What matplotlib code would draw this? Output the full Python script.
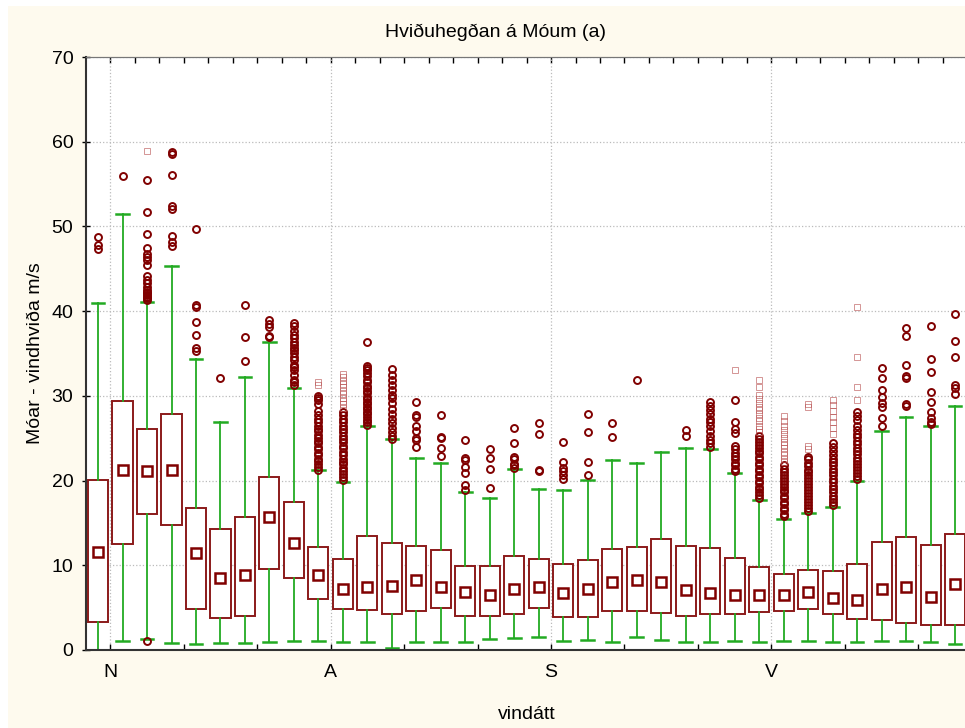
import matplotlib
matplotlib.use("Agg")
import matplotlib.pyplot as plt
import numpy as np
from matplotlib.patches import Rectangle

plt.rcParams['font.family'] = ['Liberation Sans', 'DejaVu Sans']

# 36 wind direction sectors (10 degrees each), N first
dir_labels = ['N', 'A', 'S', 'V']
label_sectors = [0, 9, 18, 27]

medians = [11.6, 21.2, 21.1, 21.2, 11.5, 8.5, 8.9, 15.7, 12.6, 8.9, 7.2, 7.4,
           7.6, 8.3, 7.4, 6.9, 6.5, 7.2, 7.4, 6.7, 7.2, 8.0, 8.3, 8.0,
           7.1, 6.7, 6.5, 6.5, 6.5, 6.85, 6.1, 5.9, 7.2, 7.4, 6.3, 7.8]
q1 = [3.3, 12.5, 16.1, 14.7, 4.8, 3.8, 4.0, 9.6, 8.5, 6.0, 4.8, 4.7,
      4.25, 4.6, 4.9, 4.0, 4.0, 4.2, 4.9, 3.9, 3.9, 4.6, 4.6, 4.4,
      4.05, 4.2, 4.2, 4.45, 4.6, 4.8, 4.2, 3.7, 3.6, 3.15, 3.0, 2.9]
q3 = [20.1, 29.4, 26.1, 27.8, 16.8, 14.3, 15.7, 20.4, 17.5, 12.1, 10.8, 13.4,
      12.6, 12.3, 11.8, 9.9, 9.9, 11.1, 10.7, 10.1, 10.6, 11.9, 12.2, 13.1,
      12.3, 12.0, 10.9, 9.8, 9.0, 9.4, 9.3, 10.1, 12.7, 13.3, 12.4, 13.7]
whis_lo = [0.0, 1.1, 1.3, 0.8, 0.7, 0.8, 0.8, 0.9, 1.1, 1.1, 1.0, 0.9,
           0.2, 0.9, 1.0, 0.9, 1.3, 1.4, 1.5, 1.1, 1.2, 0.9, 1.5, 1.2,
           0.9, 1.0, 1.1, 1.0, 1.1, 1.1, 1.0, 0.9, 1.1, 1.1, 0.9, 0.7]
whis_hi = [41.0, 51.5, 41.1, 45.3, 34.3, 26.9, 32.2, 36.3, 30.9, 21.2, 19.8, 26.4,
           24.9, 22.7, 22.1, 18.7, 18.0, 21.4, 19.0, 18.9, 20.1, 22.4, 22.1, 23.4,
           23.9, 23.7, 20.9, 17.7, 15.5, 16.2, 16.9, 19.9, 25.8, 27.5, 26.4, 28.8]

# outliers (open circles)
outliers = [
    [47.3, 47.8, 48.7],
    [55.9],
    [1.1, 41.3, 41.5, 41.7, 41.9, 42.1, 42.3, 42.5, 42.8, 43.3, 43.7, 44.1, 45.5,
     46.0, 46.4, 46.8, 47.4, 49.1, 51.7, 55.5],
    [47.7, 48.2, 48.9, 52.1, 52.4, 56.1, 58.6, 58.8],
    [35.3, 35.6, 37.2, 38.7, 40.5, 40.7, 49.7],
    [32.1],
    [34.1, 37.0, 40.7],
    [36.9, 37.1, 38.1, 38.5, 38.9],
    [31.3, 31.6, 31.9, 32.5, 33.1, 33.4, 33.6, 34.2, 34.6, 35.1, 35.4, 35.7, 36.0,
     36.4, 36.8, 37.2, 37.6, 38.2, 38.6],
    [21.3, 21.6, 21.9, 22.3, 22.6, 23.0, 23.3, 23.7, 24.0, 24.4, 24.7, 25.0, 25.4,
     25.8, 26.1, 26.5, 26.9, 27.3, 27.7, 28.2, 29.0, 29.5, 29.8, 30.0],
    [20.1, 20.4, 20.8, 21.1, 21.5, 21.9, 22.2, 22.6, 23.0, 23.4, 23.8, 24.1, 24.5,
     24.9, 25.3, 25.7, 26.1, 26.5, 26.9, 27.3, 27.7, 28.1],
    [26.6, 26.9, 27.2, 27.5, 27.8, 28.1, 28.4, 28.7, 29.0, 29.3, 29.6, 29.9, 30.3,
     30.6, 30.9, 31.2, 31.6, 31.9, 32.3, 32.7, 33.0, 33.3, 33.5, 36.3],
    [24.9, 25.3, 25.7, 26.2, 26.8, 27.3, 27.8, 28.5, 29.1, 29.7, 30.1, 30.7, 31.3,
     31.9, 32.5, 33.2],
    [24.0, 24.8, 25.0, 25.8, 26.5, 27.5, 27.7, 29.3],
    [22.9, 23.8, 25.0, 25.2, 27.7],
    [18.9, 19.5, 20.9, 21.6, 22.4, 22.7, 24.8],
    [19.1, 21.4, 22.7, 23.7],
    [21.5, 21.8, 22.0, 22.5, 22.8, 24.4, 26.2],
    [21.1, 21.3, 25.5, 26.8],
    [20.2, 20.7, 21.1, 21.5, 22.2, 24.6],
    [20.7, 22.2, 25.7, 27.9],
    [25.1, 26.8],
    [31.9],
    [],
    [25.3, 26.0],
    [24.0, 24.4, 24.8, 25.3, 25.8, 26.4, 26.9, 27.3, 27.8, 28.3, 28.8, 29.3],
    [21.1, 21.4, 21.8, 22.1, 22.5, 22.9, 23.3, 23.7, 24.1, 25.6, 26.1, 26.9, 29.5],
    [17.9, 18.3, 18.6, 19.0, 19.3, 19.7, 20.0, 20.4, 20.7, 21.1, 21.4, 21.8, 22.1,
     22.5, 22.8, 23.2, 23.5, 23.9, 24.2, 24.6, 24.9, 25.3],
    [15.8, 16.1, 16.5, 16.8, 17.2, 17.5, 17.9, 18.2, 18.6, 18.9, 19.3, 19.6, 20.0,
     20.3, 20.7, 21.0, 21.4, 21.8],
    [16.4, 16.8, 17.1, 17.5, 17.8, 18.2, 18.5, 18.9, 19.2, 19.6, 19.9, 20.3, 20.6,
     21.0, 21.3, 21.7, 22.1, 22.5, 22.8],
    [17.1, 17.5, 17.8, 18.2, 18.6, 19.0, 19.4, 19.8, 20.2, 20.6, 21.0, 21.4, 21.8,
     22.2, 22.6, 23.0, 23.5, 24.0, 24.4],
    [20.2, 20.5, 20.9, 21.2, 21.6, 21.9, 22.3, 22.7, 23.1, 23.5, 23.9, 24.3, 24.7,
     25.1, 25.5, 26.0, 26.5, 27.1, 27.6, 28.1],
    [26.4, 27.4, 28.7, 29.1, 29.9, 30.7, 32.1, 33.3],
    [28.8, 29.0, 32.1, 32.4, 33.7, 37.1, 38.0],
    [26.7, 26.9, 27.4, 28.1, 29.3, 30.4, 32.8, 34.4, 38.3],
    [30.2, 30.9, 31.3, 34.6, 36.5, 39.7],
]

# extremes (small dotted squares)
extremes = {
    2: [58.9],
    9: [31.3, 31.6],
    10: [28.6, 29.0, 29.4, 29.8, 30.2, 30.6, 31.0, 31.4, 31.8, 32.2, 32.6],
    26: [33.0],
    27: [25.7, 26.1, 26.5, 27.0, 27.4, 27.8, 28.3, 28.7, 29.1, 29.6, 30.1, 31.0, 31.9],
    28: [22.2, 22.6, 23.0, 23.4, 23.8, 24.2, 24.6, 25.0, 25.5, 26.0, 26.5, 27.0, 27.6],
    29: [23.7, 24.1, 28.7, 29.0],
    30: [25.5, 26.2, 26.9, 27.5, 28.2, 28.9, 29.5],
    31: [29.5, 31.1, 34.6, 40.5],
}

box_red = '#8b1a1a'
dark_red = '#800000'
green = '#22aa22'

fig = plt.figure(figsize=(9.65, 7.28), dpi=100, facecolor='white')
fig.patches.append(Rectangle((8 / 965, 0), 1, 1 - 6 / 728, transform=fig.transFigure,
                             facecolor='#fefaee', edgecolor='none', zorder=-10))
ax = fig.add_axes([85.8 / 965, 1 - 650 / 728, 881.5 / 965, 593 / 728])
ax.set_facecolor('white')

pos = np.arange(len(medians))
stats = []
for i in range(len(medians)):
    stats.append(dict(med=medians[i], q1=q1[i], q3=q3[i],
                      whislo=whis_lo[i], whishi=whis_hi[i], fliers=[]))

ax.bxp(stats, positions=pos, widths=0.82, capwidths=0.52, showfliers=False,
       patch_artist=True,
       boxprops=dict(facecolor='white', edgecolor=box_red, linewidth=1.4),
       whiskerprops=dict(color=green, linewidth=1.3),
       capprops=dict(color=green, linewidth=1.8),
       medianprops=dict(linestyle='none'))

ax.plot(pos, medians, 's', ms=7.5, mfc='white', mec=dark_red, mew=1.8, zorder=5)

for i, vals in enumerate(outliers):
    if vals:
        ax.plot([i] * len(vals), vals, 'o', ms=5, mfc='none', mec=dark_red,
                mew=1.4, zorder=4)
for i, vals in extremes.items():
    ax.plot([i] * len(vals), vals, 's', ms=4, mfc='none', mec='#b85050',
            mew=0.6, alpha=0.7, zorder=4)

ax.set_xlim(-0.5, 35.5)
ax.set_ylim(0, 70)
ax.set_yticks(np.arange(0, 71, 10))

label_pos = [p + 0.5 for p in label_sectors]
ax.set_xticks(label_pos)
ax.set_xticklabels(dir_labels)
ax.set_xticks(np.arange(0.5, 36, 3), minor=True)
ax.tick_params(axis='x', which='both', direction='in', length=4, width=1,
               labelsize=14, pad=10)
ax.tick_params(axis='y', direction='inout', length=6, width=1, labelsize=14, pad=6)

top = ax.secondary_xaxis('top')
top.set_xticks(np.arange(0.5, 36, 1))
top.tick_params(direction='in', length=4, width=1, labeltop=False)
top.spines['top'].set_color('#777777')

ax.set_axisbelow(True)
ax.grid(True, which='major', color='#bbbbbb', linestyle=':', linewidth=0.9)

for s in ['left', 'bottom']:
    ax.spines[s].set_color('#333333')
    ax.spines[s].set_linewidth(1.5)
ax.spines['top'].set_color('#777777')
ax.spines['right'].set_color('#777777')

ax.set_xlabel('vindátt', fontsize=14, labelpad=18)
ax.set_ylabel('Móar - vindhviða m/s', fontsize=14, labelpad=5)
fig.text(495 / 965, 1 - 32 / 728, 'Hviðuhegðan á Móum (a)', fontsize=14,
         ha='center', va='center')

fig.savefig('out.png', dpi=100, facecolor=fig.get_facecolor())
